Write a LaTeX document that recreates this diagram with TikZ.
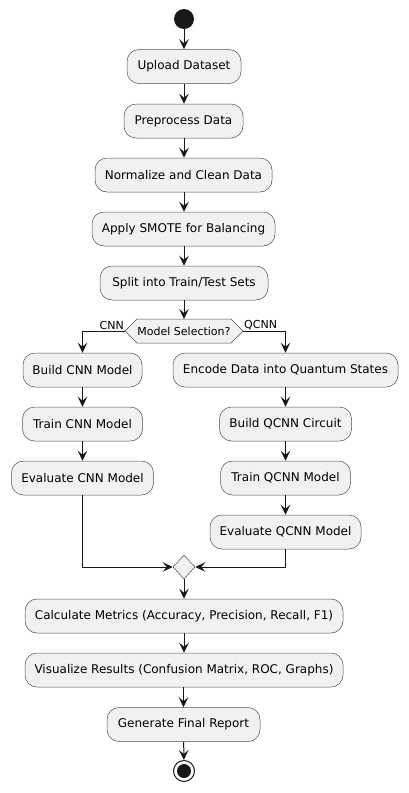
\documentclass[tikz,border=0pt]{standalone}
\usepackage{fontspec}
\setmainfont{DejaVu Sans}
\usetikzlibrary{arrows.meta,shapes.geometric,calc}
\definecolor{boxfill}{HTML}{F1F1F1}
\definecolor{ink}{HTML}{181818}
\definecolor{edge}{HTML}{505050}
\begin{document}
\begin{tikzpicture}[x=1pt,y=-1pt,
  act/.style={draw=edge,line width=0.5pt,fill=boxfill,rounded corners=12pt,
    minimum height=34pt,inner sep=0pt,font=\fontsize{12}{14}\selectfont},
  flow/.style={draw=ink,line width=1pt,-{Stealth[length=10pt,width=9.5pt,inset=4pt]}},
  lbl/.style={font=\fontsize{11}{13}\selectfont,inner sep=1pt}]
\useasboundingbox (0,0) rectangle (408,793);
\node[circle,fill=ink,minimum size=20pt,inner sep=0pt] (start) at (184,19) {};
\node[act,minimum width=114pt] (up) at (184,66.5) {Upload Dataset};
\node[act,minimum width=119pt] (pre) at (183.5,121) {Preprocess Data};
\node[act,minimum width=177pt] (norm) at (183.5,175) {Normalize and Clean Data};
\node[act,minimum width=183pt] (smote) at (183.5,229) {Apply SMOTE for Balancing};
\node[act,minimum width=168pt] (split) at (184,283) {Split into Train/Test Sets};
% decision
\coordinate (hl) at (125,331);
\coordinate (hr) at (243,331);
\draw[draw=edge,line width=0.5pt,fill=boxfill] (hl) -- (137,319) -- (231,319) -- (hr) -- (231,343) -- (137,343) -- cycle;
\node[font=\fontsize{11}{13}\selectfont,inner sep=0pt] (dec) at (184,331) {Model Selection?};
\coordinate (dtop) at (184,319);
\node[lbl,anchor=south east] (lcnn) at (hl) {CNN};
\node[lbl,anchor=south west] (lq) at (hr) {QCNN};
% left branch
\node[act,minimum width=119pt] (bcnn) at (82.5,370) {Build CNN Model};
\node[act,minimum width=120pt] (tcnn) at (82.5,424) {Train CNN Model};
\node[act,minimum width=142pt] (ecnn) at (82.5,478) {Evaluate CNN Model};
% right branch
\node[act,minimum width=225pt] (enc) at (285.5,370) {Encode Data into Quantum States};
\node[act,minimum width=132pt] (bq) at (285.5,424) {Build QCNN Circuit};
\node[act,minimum width=130pt] (tq) at (285.5,478) {Train QCNN Model};
\node[act,minimum width=151pt] (eq) at (285.5,532) {Evaluate QCNN Model};
% merge
\node[diamond,draw=edge,line width=0.5pt,fill=boxfill,minimum width=22pt,minimum height=24pt,inner sep=0pt] (merge) at (184,567) {};
\node[act,minimum width=318pt] (calc) at (184,616) {Calculate Metrics (Accuracy, Precision, Recall, F1)};
\node[act,minimum width=318pt] (vis) at (184,670) {Visualize Results (Confusion Matrix, ROC, Graphs)};
\node[act,minimum width=153pt] (gen) at (183.5,724.5) {Generate Final Report};
\node[circle,draw=ink,line width=1pt,fill=white,minimum size=21pt,inner sep=0pt] (end) at (184,771) {};
\fill[ink] (end.center) circle (7pt);
% connectors
\draw[flow] (start) -- (up);
\draw[flow] (up) -- (pre.north -| up);
\draw[flow] (pre.south -| up) -- (norm.north -| up);
\draw[flow] (norm.south -| up) -- (smote.north -| up);
\draw[flow] (smote.south -| up) -- (split);
\draw[flow] (split) -- (dtop);
\draw[flow] (hl) -| (bcnn.north);
\draw[flow] (hr) -| (enc.north);
\draw[flow] (bcnn) -- (tcnn);
\draw[flow] (tcnn) -- (ecnn);
\draw[flow] (enc) -- (bq);
\draw[flow] (bq) -- (tq);
\draw[flow] (tq) -- (eq);
\draw[flow] (ecnn.south) |- (merge.west);
\draw[flow] (eq.south) |- (merge.east);
\draw[flow] (merge) -- (calc);
\draw[flow] (calc) -- (vis);
\draw[flow] (vis.south -| gen) -- (gen);
\draw[flow] (gen) -- (end);
\end{tikzpicture}
\end{document}
